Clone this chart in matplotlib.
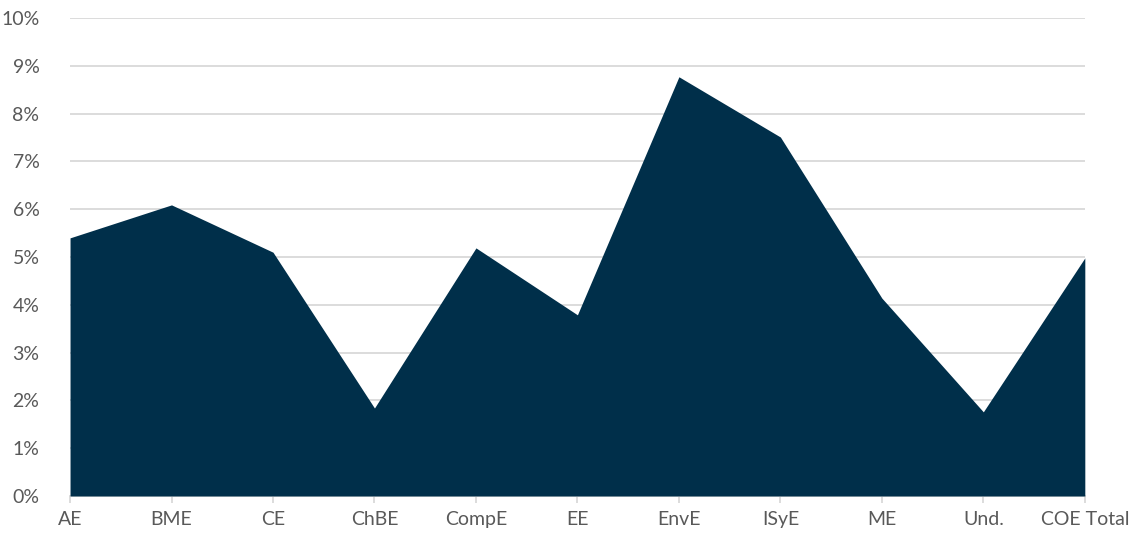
import matplotlib
matplotlib.use("Agg")
import matplotlib.pyplot as plt
from matplotlib.ticker import FuncFormatter

categories = ["AE", "BME", "CE", "ChBE", "CompE", "EE", "EnvE", "ISyE", "ME", "Und.", "COE Total"]
values = [5.40, 6.09, 5.10, 1.84, 5.19, 3.79, 8.77, 7.51, 4.14, 1.76, 4.98]

plt.rcParams['font.family'] = ['Lato', 'DejaVu Sans']

fig = plt.figure(figsize=(11.37, 5.37), dpi=100)
ax = fig.add_axes([0.0616, 0.0764, 0.8925, 0.8901])

x = list(range(len(categories)))
ax.fill_between(x, values, 0, color="#002F4A", linewidth=0, zorder=3)

ax.set_xlim(0, len(categories) - 1)
ax.set_ylim(0, 10)
ax.set_yticks(range(0, 11))
ax.yaxis.set_major_formatter(FuncFormatter(lambda v, p: "%d%%" % v))
ax.set_xticks(x)
ax.set_xticklabels(categories)

ax.grid(axis="y", color="#D9D9D9", linewidth=1.3, zorder=0)
for s in ["top", "right", "left"]:
    ax.spines[s].set_visible(False)
ax.spines["bottom"].set_color("#D9D9D9")
ax.spines["bottom"].set_linewidth(1.3)
ax.tick_params(axis="y", length=0, pad=22, labelsize=14, labelcolor="#595959")
ax.tick_params(axis="x", length=5, color="#D9D9D9", width=1.3, pad=6, labelsize=14, labelcolor="#595959")

fig.savefig("out.png", dpi=100)
